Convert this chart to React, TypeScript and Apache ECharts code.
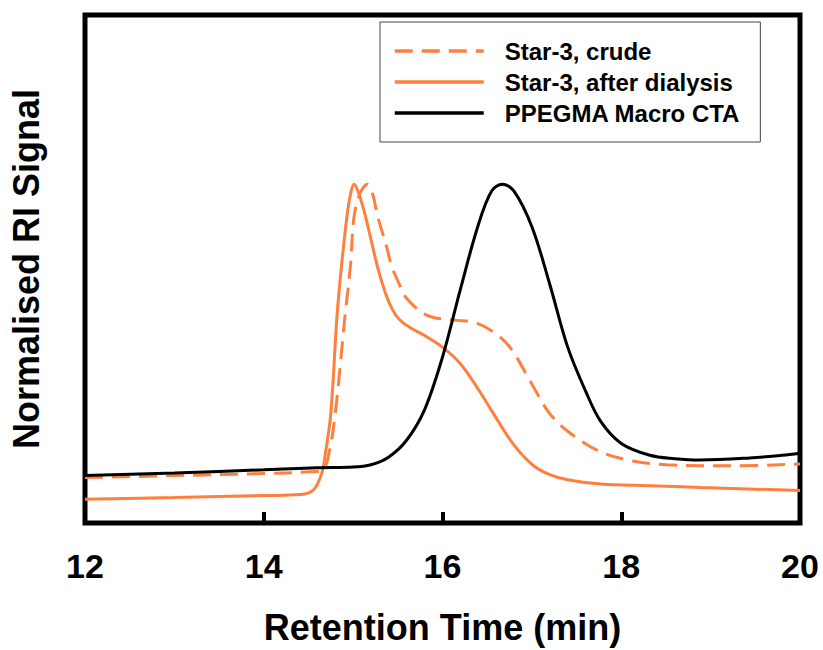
import React, { useEffect, useRef } from "react";
import * as echarts from "echarts";

const FONT = "'Liberation Sans', Arial, Helvetica, sans-serif";
const ORANGE = "#FF7F3F";

const xTicks = [12, 14, 16, 18, 20];
const seriesNames = ["Star-3, crude", "Star-3, after dialysis", "PPEGMA Macro CTA"];

const crudeX = [12.0, 13.0, 14.0, 14.5, 14.66, 14.73, 14.8, 14.91, 14.97, 15.01, 15.08, 15.16, 15.22, 15.27, 15.38, 15.43, 15.5, 15.6, 15.83, 16.12, 16.35, 16.57, 16.76, 17.0, 17.2, 17.43, 17.77, 18.13, 18.51, 19.25, 20.0];
const crudeY = [0.134, 0.14, 0.146, 0.151, 0.157, 0.206, 0.323, 0.613, 0.759, 0.904, 0.975, 1.0, 0.97, 0.91, 0.81, 0.759, 0.715, 0.663, 0.613, 0.599, 0.593, 0.564, 0.517, 0.41, 0.323, 0.265, 0.21, 0.183, 0.172, 0.169, 0.174];

const dialX = [12.0, 13.0, 14.0, 14.41, 14.56, 14.65, 14.69, 14.75, 14.82, 14.87, 14.93, 14.97, 15.01, 15.06, 15.14, 15.27, 15.36, 15.44, 15.52, 15.65, 15.79, 16.01, 16.2, 16.4, 16.57, 16.8, 17.02, 17.2, 17.4, 17.77, 18.32, 18.88, 20.0];
const dialY = [0.07, 0.075, 0.081, 0.084, 0.099, 0.148, 0.206, 0.323, 0.613, 0.759, 0.904, 0.97, 1.0, 0.975, 0.904, 0.759, 0.68, 0.63, 0.6, 0.575, 0.555, 0.517, 0.47, 0.395, 0.323, 0.23, 0.169, 0.143, 0.128, 0.115, 0.11, 0.105, 0.096];

const macroX = [12.0, 13.0, 14.0, 14.6, 15.0, 15.2, 15.4, 15.6, 15.8, 16.0, 16.2, 16.4, 16.55, 16.67, 16.8, 17.0, 17.2, 17.4, 17.6, 17.77, 18.0, 18.32, 18.6, 18.88, 19.44, 19.8, 20.0];
const macroY = [0.14, 0.148, 0.157, 0.163, 0.165, 0.172, 0.195, 0.245, 0.335, 0.49, 0.69, 0.88, 0.98, 1.0, 0.98, 0.875, 0.705, 0.52, 0.39, 0.3, 0.235, 0.2, 0.19, 0.186, 0.192, 0.2, 0.206];

const pairs = (xs: number[], ys: number[]) => xs.map((x, i) => [x, ys[i]]);

export default function App() {
  const ref = useRef<HTMLDivElement>(null);
  useEffect(() => {
    document.body.style.margin = "0";
    const chart = echarts.init(ref.current!, null, { renderer: "svg" });
    chart.setOption({
      animation: false,
      backgroundColor: "#fff",
      grid: {
        left: 84,
        right: 23,
        top: 15,
        bottom: 119,
        show: true,
        borderColor: "#000",
        borderWidth: 5,
      },
      legend: {
        orient: "vertical",
        left: 380,
        top: 22,
        padding: [17, 20, 17, 13],
        itemWidth: 89,
        itemHeight: 14,
        itemGap: 7,
        borderColor: "#444",
        borderWidth: 1,
        itemStyle: { opacity: 0 },
        lineStyle: { width: 3.5 },
        textStyle: {
          fontSize: 24,
          fontWeight: "bold",
          color: "#000",
          fontFamily: FONT,
          padding: [0, 0, 0, 16],
          lineHeight: 24,
        },
        data: seriesNames,
      },
      xAxis: {
        type: "value",
        min: 12,
        max: 20,
        interval: 2,
        name: "Retention Time (min)",
        nameLocation: "middle",
        nameGap: 86,
        nameTextStyle: { fontSize: 36, fontWeight: "bold", color: "#000", fontFamily: FONT },
        axisLine: { show: false },
        axisTick: { show: true, inside: true, length: 11, lineStyle: { color: "#000", width: 4 } },
        axisLabel: {
          show: true,
          margin: 26,
          fontSize: 34,
          fontWeight: "bold",
          color: "#000",
          fontFamily: FONT,
          showMinLabel: true,
          showMaxLabel: true,
          formatter: (v: number) => (xTicks.includes(v) ? String(v) : ""),
        },
        splitLine: { show: false },
      },
      yAxis: {
        type: "value",
        min: 0,
        max: 1.5,
        name: "Normalised RI Signal",
        nameLocation: "middle",
        nameGap: 41,
        nameTextStyle: { fontSize: 36, fontWeight: "bold", color: "#000", fontFamily: FONT },
        axisLine: { show: false },
        axisTick: { show: false },
        axisLabel: { show: false },
        splitLine: { show: false },
      },
      series: [
        {
          name: seriesNames[0],
          type: "line",
          data: pairs(crudeX, crudeY),
          smooth: 0.35,
          symbol: "none",
          lineStyle: { color: ORANGE, width: 3, type: [18, 9] },
          itemStyle: { color: ORANGE },
        },
        {
          name: seriesNames[1],
          type: "line",
          data: pairs(dialX, dialY),
          smooth: 0.35,
          symbol: "none",
          lineStyle: { color: ORANGE, width: 3 },
          itemStyle: { color: ORANGE },
        },
        {
          name: seriesNames[2],
          type: "line",
          data: pairs(macroX, macroY),
          smooth: 0.35,
          symbol: "none",
          lineStyle: { color: "#000", width: 3 },
          itemStyle: { color: "#000" },
        },
      ],
    });
    return () => chart.dispose();
  }, []);
  return <div ref={ref} style={{ width: 823, height: 650 }} />;
}
